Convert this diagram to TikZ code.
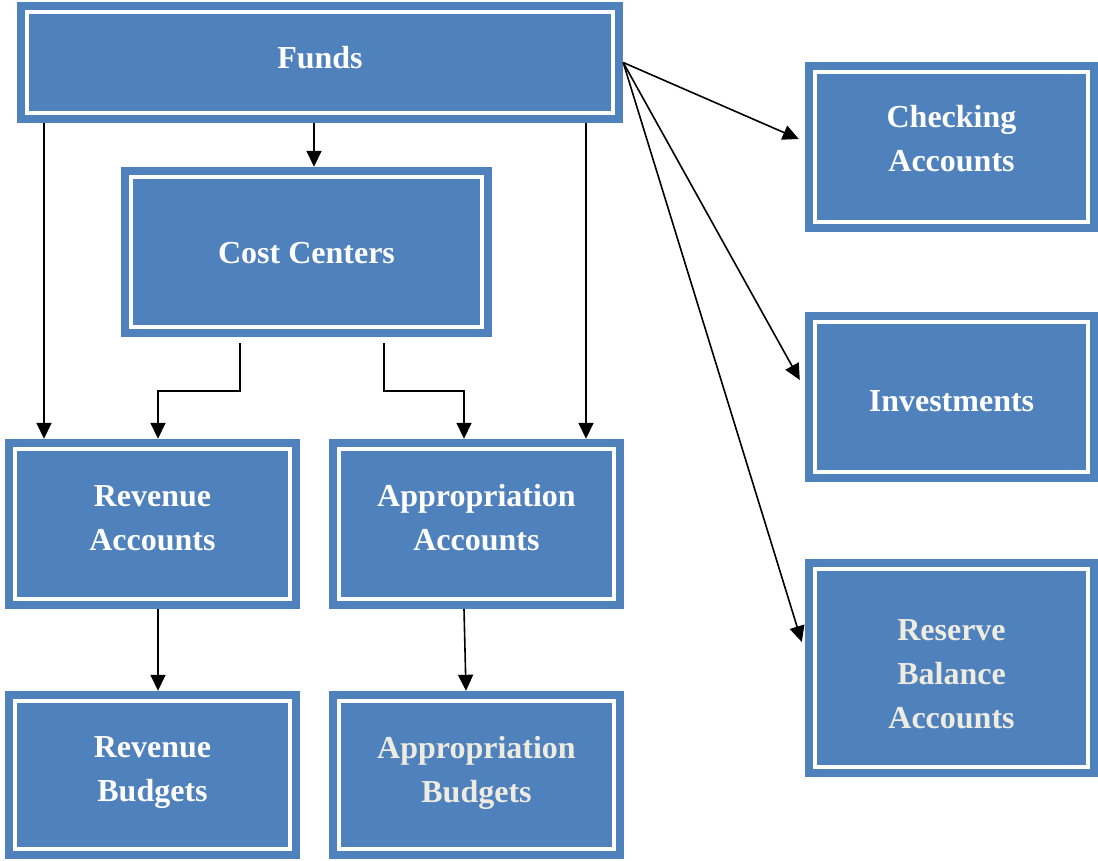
\documentclass[tikz,border=0pt]{standalone}
\usepackage{fontspec}
\setmainfont{Liberation Serif}
\usetikzlibrary{arrows.meta}
\definecolor{boxblue}{HTML}{4F81BD}
\definecolor{cream}{HTML}{EEECE1}
\tikzset{
  blockbox/.style={fill=boxblue, inner sep=0pt,
    path picture={\draw[white,line width=4pt]
      ([shift={(10pt,-10pt)}]path picture bounding box.north west) rectangle
      ([shift={(-10pt,10pt)}]path picture bounding box.south east);}},
  boxtext/.style={inner sep=0pt, align=center, text=white,
    font=\bfseries\fontsize{32}{44}\selectfont},
  arr/.style={line width=1.6pt, -{Triangle[length=16pt,width=15pt]}}
}
\begin{document}
\begin{tikzpicture}[x=1pt,y=-1pt]
\useasboundingbox (0,0) rectangle (1098,860);
\node[blockbox, minimum width=606pt, minimum height=121pt] (funds) at (320,62.5) {};
\node[blockbox, minimum width=371pt, minimum height=170pt] (cost) at (306.5,252) {};
\node[blockbox, minimum width=295pt, minimum height=170pt] (revacc) at (152.5,524) {};
\node[blockbox, minimum width=295pt, minimum height=170pt] (appacc) at (476.5,524) {};
\node[blockbox, minimum width=295pt, minimum height=168pt] (revbud) at (152.5,775) {};
\node[blockbox, minimum width=295pt, minimum height=168pt] (appbud) at (476.5,775) {};
\node[blockbox, minimum width=293pt, minimum height=170pt] (check) at (951.5,147) {};
\node[blockbox, minimum width=293pt, minimum height=170pt] (invest) at (951.5,397) {};
\node[blockbox, minimum width=293pt, minimum height=218pt] (reserve) at (951.5,668) {};

\node[boxtext] (funds-t) at ([yshift=5pt]funds.center) {Funds};
\node[boxtext] (cost-t) at ([yshift=-1pt]cost.center) {Cost Centers};
\node[boxtext] (revacc-t) at ([yshift=6pt]revacc.center) {Revenue\\Accounts};
\node[boxtext] (appacc-t) at ([yshift=6pt]appacc.center) {Appropriation\\Accounts};
\node[boxtext] (revbud-t) at ([yshift=2pt]revbud.center) {Revenue\\Budgets};
\node[boxtext, text=cream] (appbud-t) at ([yshift=2pt]appbud.center) {Appropriation\\Budgets};
\node[boxtext] (check-t) at ([yshift=8pt]check.center) {Checking\\Accounts};
\node[boxtext] (invest-t) at ([yshift=-4pt]invest.center) {Investments};
\node[boxtext, text=cream] (reserve-t) at ([yshift=-6pt]reserve.center) {Reserve\\Balance\\Accounts};

\coordinate (xa) at (44,0);
\coordinate (xb) at (314,0);
\coordinate (xc) at (586,0);
\coordinate (xd) at (240,0);
\coordinate (xe) at (158,0);
\coordinate (xf) at (384,0);
\coordinate (xg) at (464,0);
\coordinate (ym) at (0,391);

\draw[arr] (funds.south -| xb) -- (cost.north -| xb);
\draw[arr] (funds.south -| xa) -- (revacc.north -| xa);
\draw[arr] (funds.south -| xc) -- (appacc.north -| xc);
\draw[arr, shorten <=6pt] (cost.south -| xd) -- (xd |- ym) -| (revacc.north -| xe);
\draw[arr, shorten <=6pt] (cost.south -| xf) -- (xf |- ym) -| (appacc.north -| xg);
\draw[arr] (revacc.south -| xe) -- (revbud.north -| xe);
\draw[arr] (appacc.south -| xg) -- ([xshift=2pt]appbud.north -| xg);
\draw[arr] (funds.east) -- ([xshift=-6pt,yshift=8pt]check.west);
\draw[arr] (funds.east) -- ([xshift=-5pt,yshift=17pt]invest.west);
\draw[arr] (funds.east) -- ([xshift=-3pt,yshift=26pt]reserve.west);
\end{tikzpicture}
\end{document}
